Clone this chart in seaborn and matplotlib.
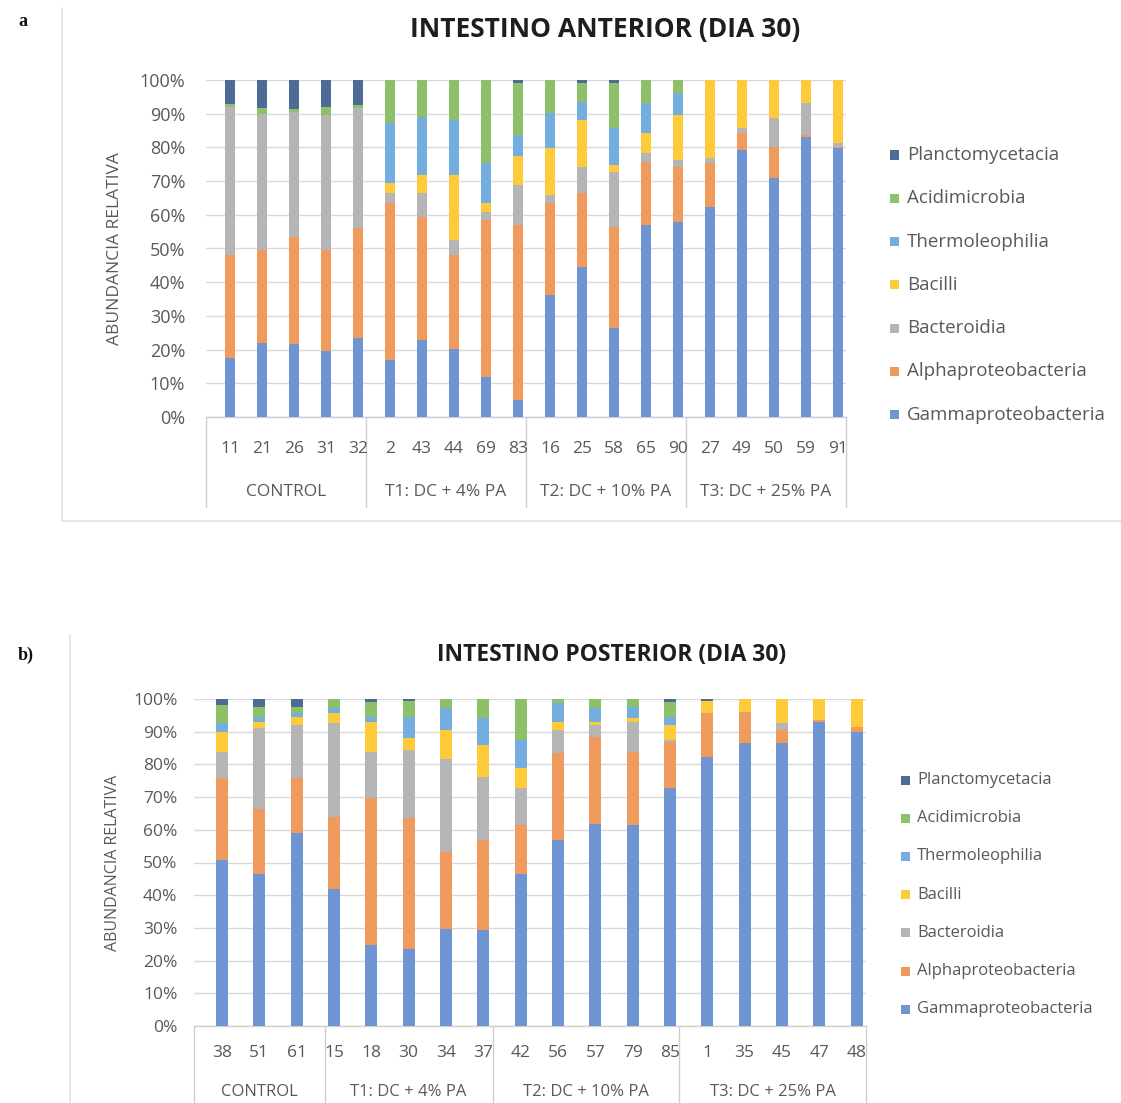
import matplotlib
matplotlib.use("Agg")
import matplotlib.pyplot as plt
from matplotlib.lines import Line2D
from matplotlib.patches import Rectangle
from matplotlib.transforms import blended_transform_factory
import numpy as np
import pandas as pd
import seaborn as sns

# ---------------------------------------------------------------- data
taxa = ["Gammaproteobacteria", "Alphaproteobacteria", "Bacteroidia", "Bacilli",
        "Thermoleophilia", "Acidimicrobia", "Planctomycetacia"]
taxa_colors = ["#6f94d2", "#f09a5e", "#b5b5b5", "#fdcb3a",
               "#74aee0", "#8dc068", "#4e6b93"]

groups = ["CONTROL", "T1: DC + 4% PA", "T2: DC + 10% PA", "T3: DC + 25% PA"]

# Anterior intestine, day 30 (relative abundance, %)
ant_samples = ["11", "21", "26", "31", "32", "2", "43", "44", "69", "83",
               "16", "25", "58", "65", "90", "27", "49", "50", "59", "91"]
ant_group_sizes = [5, 5, 5, 5]
ant_gamma = [17.6, 22.1, 21.6, 19.6, 23.3, 16.9, 22.8, 20.1, 12.0, 5.0,
             36.2, 44.6, 26.3, 57.0, 58.0, 62.4, 79.2, 70.8, 83.2, 79.7]
ant_alpha = [30.5, 27.4, 31.9, 30.0, 32.7, 46.5, 36.6, 28.0, 46.5, 52.0,
             27.2, 21.8, 30.2, 18.8, 16.3, 12.9, 5.0, 9.4, 0.5, 0.5]
ant_bacteroidia = [43.9, 40.5, 37.0, 40.0, 35.6, 3.0, 7.0, 4.4, 2.4, 11.8,
                   2.5, 7.9, 16.3, 2.4, 2.0, 1.5, 1.5, 8.4, 9.4, 1.0]
ant_bacilli = [0.0, 0.0, 0.0, 0.0, 0.0, 2.9, 5.4, 19.3, 2.5, 8.5,
               13.8, 13.8, 2.0, 6.0, 13.3, 23.2, 14.3, 11.4, 6.9, 18.8]
ant_thermo = [0.0, 0.0, 0.0, 0.0, 0.0, 17.8, 17.3, 16.3, 11.9, 6.4,
              10.4, 5.5, 10.9, 8.9, 6.4, 0.0, 0.0, 0.0, 0.0, 0.0]
ant_acidi = [1.0, 1.6, 1.0, 2.4, 1.0, 12.9, 10.9, 11.9, 24.7, 15.3,
             9.9, 5.4, 13.3, 6.9, 4.0, 0.0, 0.0, 0.0, 0.0, 0.0]
ant_plancto = [7.0, 8.4, 8.5, 8.0, 7.4, 0.0, 0.0, 0.0, 0.0, 1.0,
               0.0, 1.0, 1.0, 0.0, 0.0, 0.0, 0.0, 0.0, 0.0, 0.0]

# Posterior intestine, day 30 (relative abundance, %)
pos_samples = ["38", "51", "61", "15", "18", "30", "34", "37", "42",
               "56", "57", "79", "85", "1", "35", "45", "47", "48"]
pos_group_sizes = [3, 5, 5, 5]
pos_gamma = [50.7, 46.6, 58.9, 42.0, 24.7, 23.7, 29.8, 29.3, 46.6,
             56.8, 61.9, 61.4, 72.7, 82.3, 86.4, 86.4, 93.1, 90.0]
pos_alpha = [25.0, 19.9, 16.8, 22.0, 44.9, 39.8, 23.5, 27.5, 14.8,
             26.6, 26.6, 22.5, 14.2, 13.3, 9.7, 4.1, 0.5, 1.5]
pos_bacteroidia = [8.2, 24.5, 16.3, 28.6, 14.3, 20.9, 28.5, 19.4, 11.3,
                   7.1, 3.5, 9.2, 0.5, 0.0, 0.0, 2.1, 0.0, 0.0]
pos_bacilli = [6.1, 2.1, 2.6, 3.0, 9.2, 3.6, 8.7, 9.7, 6.1,
               2.6, 1.1, 1.0, 4.6, 3.9, 3.9, 7.4, 6.4, 8.5]
pos_thermo = [2.6, 1.5, 1.0, 1.5, 1.5, 6.6, 6.6, 8.2, 8.6,
              5.6, 4.0, 3.6, 2.6, 0.0, 0.0, 0.0, 0.0, 0.0]
pos_acidi = [5.6, 3.1, 2.1, 2.9, 4.6, 4.9, 2.9, 5.9, 12.6,
             1.3, 2.9, 2.3, 4.6, 0.0, 0.0, 0.0, 0.0, 0.0]
pos_plancto = [1.8, 2.3, 2.3, 0.0, 0.8, 0.5, 0.0, 0.0, 0.0,
               0.0, 0.0, 0.0, 0.8, 0.5, 0.0, 0.0, 0.0, 0.0]

ant_values = [ant_gamma, ant_alpha, ant_bacteroidia, ant_bacilli,
              ant_thermo, ant_acidi, ant_plancto]
pos_values = [pos_gamma, pos_alpha, pos_bacteroidia, pos_bacilli,
              pos_thermo, pos_acidi, pos_plancto]

# ---------------------------------------------------------------- style
sns.set_theme(style="white")
plt.rcParams["font.family"] = ["Open Sans", "DejaVu Sans"]

TXT = "#595959"
GRID = "#d9d9d9"
FRAME = "#cfcfcf"

W, H = 1121, 1103
fig = plt.figure(figsize=(W / 100, H / 100), dpi=100)


def fx(px):
    return px / W


def fy(py):
    return 1 - py / H


def stacked_panel(rect, samples, values, bounds, xlim, bar_w, fs_tick,
                  fs_num, fs_grp, fs_ylab, ytick_pad, num_off, grp_off,
                  table_depth, ylab_x):
    ax = fig.add_axes(rect)
    long = pd.DataFrame({"sample": samples})
    cum = np.cumsum(np.array(values), axis=0)
    # tallest cumulative layer first so lower taxa paint over it
    for k in range(len(taxa) - 1, -1, -1):
        long["total"] = cum[k]
        sns.barplot(data=long, x="sample", y="total", order=samples,
                    color=taxa_colors[k], width=bar_w, saturation=1,
                    errorbar=None, linewidth=0, ax=ax, zorder=3)
    ax.set_xlim(*xlim)
    ax.set_ylim(0, 100)
    ax.set_yticks(np.arange(0, 101, 10))
    ax.set_yticklabels([f"{v}%" for v in range(0, 101, 10)])
    ax.yaxis.grid(True, color=GRID, lw=1, zorder=0)
    ax.set_axisbelow(True)
    for s in ["top", "right", "left"]:
        ax.spines[s].set_visible(False)
    ax.spines["bottom"].set_color(FRAME)
    ax.spines["bottom"].set_linewidth(1)
    ax.tick_params(axis="y", length=0, pad=ytick_pad, labelsize=fs_tick,
                   labelcolor=TXT)
    ax.set_xlabel("")
    ax.set_xticks(range(len(samples)))
    ax.set_xticklabels([])
    ax.tick_params(axis="x", length=0)
    ax.set_ylabel("")

    tr = blended_transform_factory(ax.transData, ax.transAxes)
    for i, s in enumerate(samples):
        ax.text(i, -num_off, s, transform=tr, ha="center", va="center",
                fontsize=fs_num, color=TXT, clip_on=False)
    for b in bounds:
        ax.add_line(Line2D([b, b], [0, -table_depth], transform=tr,
                           color=FRAME, lw=1, clip_on=False))
    for g, (a, b) in zip(groups, zip(bounds[:-1], bounds[1:])):
        ax.text((a + b) / 2, -grp_off, g, transform=tr, ha="center",
                va="center", fontsize=fs_grp, color=TXT, clip_on=False)
    ax.text(ylab_x, 0.5, "ABUNDANCIA RELATIVA", transform=ax.transAxes,
            rotation=90, ha="center", va="center", fontsize=fs_ylab,
            color=TXT)
    return ax


def legend_block(x_sq, x_txt, y_first, step, sq, fs):
    for j, k in enumerate(range(len(taxa) - 1, -1, -1)):
        yc = y_first + j * step
        fig.add_artist(Rectangle((fx(x_sq), fy(yc + sq / 2)), sq / W, sq / H,
                                 transform=fig.transFigure,
                                 facecolor=taxa_colors[k], edgecolor="none"))
        fig.text(fx(x_txt), fy(yc), taxa[k], ha="left", va="center",
                 fontsize=fs, color=TXT)


# ---------------------------------------------------------------- panel a
ax_a = stacked_panel(
    rect=[fx(206), fy(417), fx(846) - fx(206), fy(80) - fy(417)],
    samples=ant_samples, values=ant_values,
    bounds=[-0.75, 4.25, 9.25, 14.25, 19.25], xlim=(-0.75, 19.25),
    bar_w=0.34, fs_tick=13, fs_num=12.5, fs_grp=12.5, fs_ylab=12.5,
    ytick_pad=15, num_off=32 / 337, grp_off=75 / 337,
    table_depth=90 / 337, ylab_x=(115 - 206) / 640)
fig.text(fx(605), fy(30), "INTESTINO ANTERIOR (DIA 30)", ha="center",
         va="center", fontsize=19, fontweight="bold", color="#1e1e1e")
fig.text(fx(18), fy(22), "a", ha="left", va="center", fontsize=13,
         fontweight="bold", family="Liberation Serif", color="#111111")
legend_block(x_sq=890, x_txt=907, y_first=155, step=43.3, sq=9, fs=13.5)

# frame lines around panel a
fig.add_artist(Line2D([fx(62), fx(62)], [fy(8), fy(521)],
                      transform=fig.transFigure, color="#e3e3e3", lw=1.2))
fig.add_artist(Line2D([fx(62), fx(1121)], [fy(521), fy(521)],
                      transform=fig.transFigure, color="#e3e3e3", lw=1.2))

# ---------------------------------------------------------------- panel b
ax_b = stacked_panel(
    rect=[fx(194), fy(1026), fx(866) - fx(194), fy(699) - fy(1026)],
    samples=pos_samples, values=pos_values,
    bounds=[-0.75, 2.75, 7.25, 12.25, 17.25], xlim=(-0.75, 17.25),
    bar_w=0.33, fs_tick=12.5, fs_num=12.5, fs_grp=12, fs_ylab=11.5,
    ytick_pad=12, num_off=27 / 327, grp_off=66 / 327,
    table_depth=80 / 327, ylab_x=(113 - 194) / 672)
fig.text(fx(612), fy(655), "INTESTINO POSTERIOR (DIA 30)", ha="center",
         va="center", fontsize=16.5, fontweight="bold", color="#1e1e1e")
fig.text(fx(18), fy(655), "b)", ha="left", va="center", fontsize=13,
         fontweight="bold", family="Liberation Serif", color="#111111")
legend_block(x_sq=901, x_txt=917, y_first=780, step=38.2, sq=9, fs=12)

fig.add_artist(Line2D([fx(70), fx(70)], [fy(635), fy(1103)],
                      transform=fig.transFigure, color="#e3e3e3", lw=1.2))

fig.savefig("out.png", dpi=100, facecolor="white")
